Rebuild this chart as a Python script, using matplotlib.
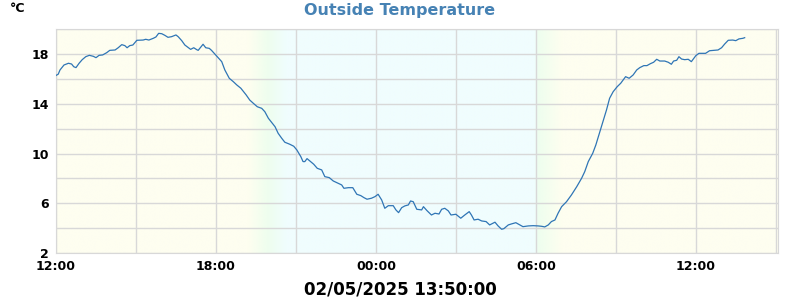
import matplotlib
matplotlib.use('Agg')
import matplotlib.pyplot as plt
import matplotlib.dates as mdates
from matplotlib.colors import to_rgb
import numpy as np
import pandas as pd

# readings: minutes after 01/05/2025 12:00, outside temperature in deg C
start = pd.Timestamp('2025-05-01 12:00')
minutes = [0, 5, 9, 18, 28, 35, 40, 45, 52, 59, 67, 75, 84, 90, 97, 105, 114, 121,
           133, 140, 148, 155, 160, 166, 173, 182, 196, 202, 209, 219, 225, 231, 238,
           245, 252, 260, 270, 275, 283, 290, 298, 303, 310, 317, 320, 326, 331, 337,
           345, 350, 358, 365, 373, 380, 390, 399, 407, 416, 421, 428, 436, 444, 453,
           463, 470, 478, 485, 493, 500, 508, 515, 526, 535, 542, 551, 556, 560, 565,
           573, 580, 588, 598, 605, 615, 624, 635, 643, 648, 658, 668, 677, 686, 693,
           700, 710, 718, 725, 733, 740, 748, 759, 765, 771, 778, 785, 793, 798, 804,
           812, 823, 827, 835, 845, 853, 862, 868, 875, 883, 889, 900, 911, 920, 930,
           935, 941, 950, 958, 968, 976, 988, 995, 1003, 1008, 1018, 1025, 1035, 1044,
           1051, 1063, 1074, 1085, 1093, 1100, 1108, 1115, 1123, 1130, 1138, 1149,
           1160, 1172, 1183, 1190, 1198, 1208, 1215, 1224, 1231, 1239, 1246, 1254,
           1263, 1271, 1282, 1290, 1299, 1307, 1314, 1323, 1330, 1338, 1345, 1352,
           1359, 1370, 1378, 1385, 1390, 1397, 1402, 1408, 1415, 1423, 1430, 1440,
           1447, 1462, 1471, 1490, 1498, 1505, 1513, 1523, 1530, 1537, 1546, 1550]
temps = [16.3, 16.4, 16.74, 17.14, 17.28, 17.22, 17.0, 16.93, 17.28, 17.57, 17.81,
         17.92, 17.84, 17.73, 17.92, 17.95, 18.13, 18.32, 18.35, 18.53, 18.78, 18.7,
         18.53, 18.7, 18.75, 19.13, 19.15, 19.21, 19.15, 19.29, 19.4, 19.69, 19.66,
         19.53, 19.37, 19.42, 19.56, 19.42, 19.1, 18.75, 18.53, 18.4, 18.53, 18.37,
         18.32, 18.59, 18.81, 18.53, 18.48, 18.32, 18.0, 17.73, 17.41, 16.74, 16.07,
         15.8, 15.53, 15.27, 15.05, 14.73, 14.32, 14.06, 13.78, 13.65, 13.38, 12.85,
         12.53, 12.17, 11.64, 11.24, 10.92, 10.76, 10.6, 10.3, 9.76, 9.36, 9.36, 9.6,
         9.36, 9.15, 8.82, 8.69, 8.15, 8.07, 7.8, 7.62, 7.48, 7.21, 7.26, 7.26, 6.73,
         6.62, 6.46, 6.33, 6.41, 6.54, 6.73, 6.27, 5.6, 5.81, 5.81, 5.47, 5.25, 5.65,
         5.79, 5.87, 6.19, 6.13, 5.52, 5.47, 5.73, 5.41, 5.06, 5.2, 5.14, 5.52, 5.6,
         5.39, 5.06, 5.12, 4.8, 5.06, 5.33, 5.06, 4.66, 4.72, 4.58, 4.53, 4.26, 4.48,
         4.18, 3.91, 3.96, 4.26, 4.34, 4.44, 4.26, 4.12, 4.18, 4.2, 4.18, 4.15, 4.1,
         4.26, 4.53, 4.66, 5.2, 5.73, 6.13, 6.67, 7.34, 8.02, 8.55, 9.36, 10.03, 10.7,
         11.77, 12.58, 13.52, 14.46, 14.99, 15.39, 15.67, 16.2, 16.07, 16.34, 16.74,
         16.93, 17.09, 17.09, 17.25, 17.36, 17.6, 17.46, 17.46, 17.36, 17.2, 17.46,
         17.52, 17.81, 17.62, 17.57, 17.6, 17.41, 17.89, 18.08, 18.08, 18.29, 18.35,
         18.53, 18.83, 19.13, 19.15, 19.1, 19.24, 19.29, 19.34]
y_ticks = [2, 6, 10, 14, 18]
title = 'Outside Temperature'
unit = '°C'
stamp = '02/05/2025 13:50:00'

times = start + pd.to_timedelta(minutes, unit='m')
x_end = start + pd.Timedelta(minutes=1625)

plt.rcParams['font.family'] = 'DejaVu Sans'
plt.rcParams['font.weight'] = 'bold'

fig = plt.figure(figsize=(8, 3), dpi=100)
ax = fig.add_axes([0.07, 0.1567, 0.9025, 0.745])

# day / night shading, hours after start
day, dusk, night = to_rgb('#fefef0'), to_rgb('#eefeee'), to_rgb('#f0fdfe')
stops = [0, 7.2, 7.95, 8.65, 17.95, 18.1, 19.0, 27.1]
cols = np.array([day, day, dusk, night, night, dusk, day, day])
hrs = np.linspace(0, 27.1, 900)
img = np.stack([np.interp(hrs, stops, cols[:, i]) for i in range(3)], axis=-1)[None, :, :]
x0 = mdates.date2num(start)
x1 = mdates.date2num(start + pd.Timedelta(hours=27.1))
ax.imshow(img, extent=[x0, x1, 2, 20], aspect='auto', zorder=0, interpolation='bilinear')

ax.plot(times, temps, color='#2f75b5', lw=0.9, zorder=3)

ax.set_xlim(start, x_end)
ax.set_ylim(2, 20)
ax.xaxis.set_major_locator(mdates.HourLocator(byhour=[0, 6, 12, 18]))
ax.xaxis.set_minor_locator(mdates.HourLocator(byhour=[3, 9, 15, 21]))
ax.xaxis.set_major_formatter(mdates.DateFormatter('%H:%M'))
ax.set_yticks(y_ticks)
ax.set_yticks(range(4, 21, 4), minor=True)
ax.grid(which='both', color='#d8d8d8', lw=1, zorder=1)
ax.set_axisbelow(False)
ax.tick_params(which='both', length=0, pad=5, labelsize=9)
for s in ax.spines.values():
    s.set_color('#d8d8d8')

fig.text(0.5, 1 - 11 / 300, title, ha='center', va='center', fontsize=11.5, color='#4682b4')
fig.text(0.012, 1 - 8 / 300, unit, ha='left', va='center', fontsize=9)
fig.text(0.5, 1 - 289 / 300, stamp, ha='center', va='center', fontsize=12)

fig.savefig('out.png', dpi=100)
